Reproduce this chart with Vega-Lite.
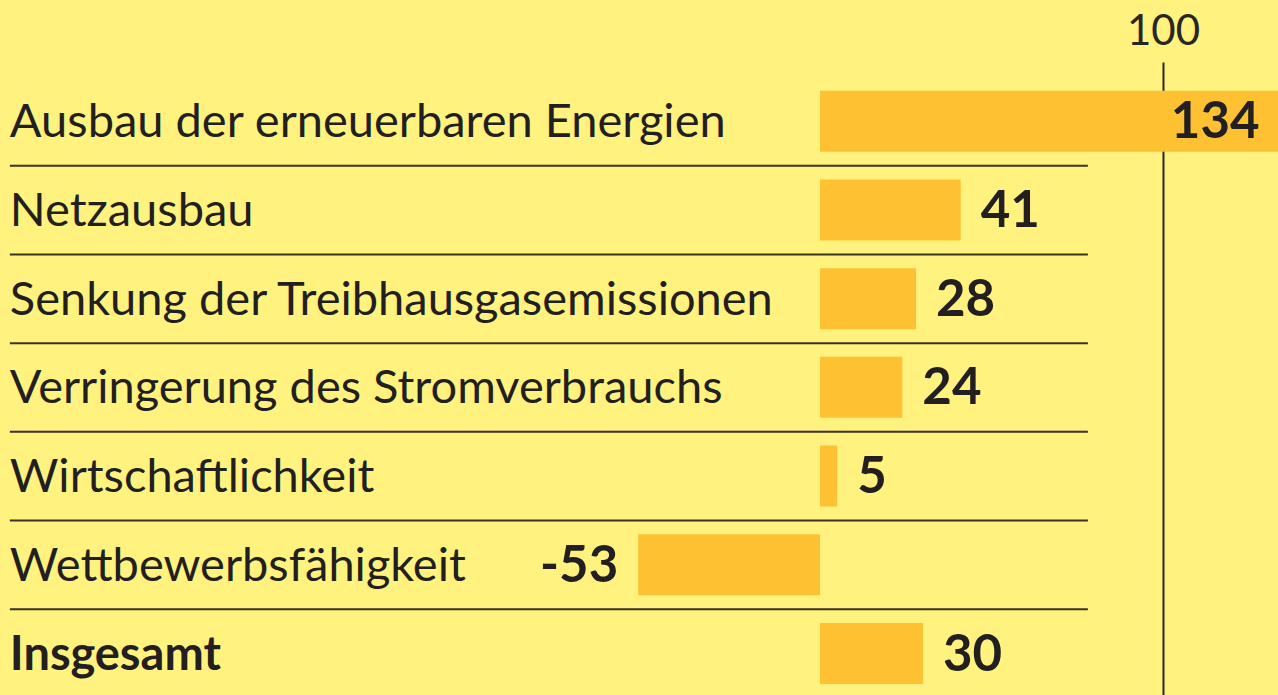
{
  "$schema": "https://vega.github.io/schema/vega-lite/v6.json",
  "autosize": {"type": "none"},
  "padding": {"top": 62, "left": 0, "right": 0, "bottom": 0},
  "width": 1278,
  "height": 633,
  "background": "#FFF27F",
  "config": {
    "view": {"stroke": null},
    "font": "Lato",
    "text": {"font": "Lato", "color": "#231F20"}
  },
  "data": {
    "values": [
      {"row": 1, "label": "Ausbau der erneuerbaren Energien", "value": 134, "display": "134"},
      {"row": 2, "label": "Netzausbau", "value": 41, "display": "41"},
      {"row": 3, "label": "Senkung der Treibhausgasemissionen", "value": 28, "display": "28"},
      {"row": 4, "label": "Verringerung des Stromverbrauchs", "value": 24, "display": "24"},
      {"row": 5, "label": "Wirtschaftlichkeit", "value": 5, "display": "5"},
      {"row": 6, "label": "Wettbewerbsfähigkeit", "value": -53, "display": "-53"},
      {"row": 7, "label": "Insgesamt", "value": 30, "display": "30"}
    ]
  },
  "encoding": {
    "y": {
      "field": "row",
      "type": "quantitative",
      "scale": {"domain": [0.39, 7.41], "reverse": true, "nice": false, "zero": false},
      "axis": null
    }
  },
  "layer": [
    {
      "mark": {"type": "rule", "color": "#3A3222", "strokeWidth": 2, "yOffset": 44.5},
      "transform": [{"filter": "datum.row < 7"}],
      "encoding": {
        "x": {"datum": -236.2, "type": "quantitative"},
        "x2": {"datum": 78.1}
      }
    },
    {
      "mark": {"type": "bar", "orient": "horizontal", "height": 61, "color": "#FDC131", "clip": true},
      "encoding": {
        "x": {
          "field": "value",
          "type": "quantitative",
          "scale": {"domain": [-239.07, 133.53], "nice": false, "zero": false},
          "axis": {
            "orient": "top",
            "values": [100],
            "title": null,
            "domain": false,
            "ticks": false,
            "grid": true,
            "gridColor": "#2A2520",
            "gridWidth": 2,
            "gridOpacity": 1,
            "labelFont": "Lato",
            "labelFontSize": 42,
            "labelColor": "#2A2520",
            "labelPadding": 9
          }
        },
        "x2": {"datum": 0}
      }
    },
    {
      "mark": {"type": "text", "align": "left", "baseline": "middle", "fontSize": 47, "dy": 2},
      "transform": [{"filter": "datum.row < 7"}],
      "encoding": {
        "x": {"datum": -236.2, "type": "quantitative"},
        "text": {"field": "label"}
      }
    },
    {
      "mark": {"type": "text", "align": "left", "baseline": "middle", "fontSize": 47, "fontWeight": "bold", "dy": 2},
      "transform": [{"filter": "datum.row == 7"}],
      "encoding": {
        "x": {"datum": -236.2, "type": "quantitative"},
        "text": {"field": "label"}
      }
    },
    {
      "mark": {"type": "text", "align": "left", "baseline": "middle", "fontSize": 51, "fontWeight": "bold", "dx": 20, "dy": 2},
      "transform": [{"filter": "datum.value > 0 && datum.value < 100"}],
      "encoding": {
        "x": {"field": "value", "type": "quantitative"},
        "text": {"field": "display"}
      }
    },
    {
      "mark": {"type": "text", "align": "right", "baseline": "middle", "fontSize": 51, "fontWeight": "bold", "dx": -20, "dy": 2},
      "transform": [{"filter": "datum.value < 0 || datum.value > 100"}],
      "encoding": {
        "x": {"field": "value", "type": "quantitative"},
        "text": {"field": "display"}
      }
    }
  ]
}
